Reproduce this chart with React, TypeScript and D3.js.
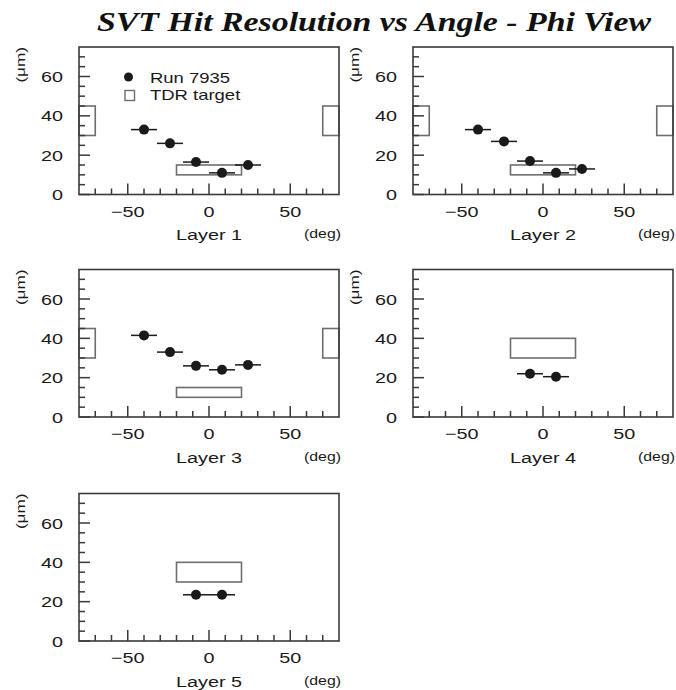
import React from "react";
import * as d3 from "d3";

// Bin centres (deg) and measured hit resolution (μm) per SVT layer
const innerAngles = [-40, -24, -8, 8, 24];
const outerAngles = [-8, 8];
const binHalfWidth = 8;
const layer1 = [33, 26, 16.5, 11, 15];
const layer2 = [33, 27, 17, 11, 13];
const layer3 = [41.5, 33, 26, 24, 26.5];
const layer4 = [22, 20.5];
const layer5 = [23.5, 23.5];

// TDR target regions [x0, x1, y0, y1]
const innerTargets = [
  [-20, 20, 10, 15],
  [-80, -70, 30, 45],
  [70, 80, 30, 45],
];
const outerTargets = [[-20, 20, 30, 40]];

const layerNames = ["Layer 1", "Layer 2", "Layer 3", "Layer 4", "Layer 5"];
const xMajorTicks = [-50, 0, 50];
const yMajorTicks = [0, 20, 40, 60];
const xDomain = [-80, 80];
const yDomain = [0, 75];

const title = "SVT Hit Resolution vs Angle - Phi View";
const legendRun = "Run 7935";
const legendTarget = "TDR target";

type Panel = {
  name: string;
  angles: number[];
  values: number[];
  targets: number[][];
};

const panels: Panel[] = [
  { name: layerNames[0], angles: innerAngles, values: layer1, targets: innerTargets },
  { name: layerNames[1], angles: innerAngles, values: layer2, targets: innerTargets },
  { name: layerNames[2], angles: innerAngles, values: layer3, targets: innerTargets },
  { name: layerNames[3], angles: outerAngles, values: layer4, targets: outerTargets },
  { name: layerNames[4], angles: outerAngles, values: layer5, targets: outerTargets },
];

const W = 676;
const H = 690;
const colLeft = [79, 413];
const rowTop = [47, 269.5, 493.5];
const pw = 260;
const ph = 147.5;
const FONT = "'Liberation Sans', Arial, sans-serif";
const SX = 1.32;
const ink = "#1a1a1a";
const frameCol = "#3a3a3a";
const boxCol = "#6e6e6e";

function WideText(props: {
  x: number;
  y: number;
  size: number;
  anchor?: string;
  children: React.ReactNode;
  rotate?: boolean;
}) {
  const { x, y, size, anchor = "start", children, rotate } = props;
  const tr = rotate
    ? `translate(${x},${y}) rotate(-90) scale(${SX},1)`
    : `translate(${x},${y}) scale(${SX},1)`;
  return (
    <text
      transform={tr}
      fontFamily={FONT}
      fontSize={size}
      textAnchor={anchor}
      fill={ink}
    >
      {children}
    </text>
  );
}

function PanelView({ p, left, top, legend }: { p: Panel; left: number; top: number; legend: boolean }) {
  const x = d3.scaleLinear().domain(xDomain).range([0, pw]);
  const y = d3.scaleLinear().domain(yDomain).range([ph, 0]);
  const xMinor = d3.range(-70, 71, 10).filter((v) => !xMajorTicks.includes(v));
  const yMinor = d3.range(5, 71, 5).filter((v) => !yMajorTicks.includes(v));
  return (
    <g transform={`translate(${left},${top})`}>
      {/* TDR target boxes */}
      {p.targets.map((t, i) => (
        <rect
          key={"t" + i}
          x={x(t[0])}
          y={y(t[3])}
          width={x(t[1]) - x(t[0])}
          height={y(t[2]) - y(t[3])}
          fill="none"
          stroke={boxCol}
          strokeWidth={1.6}
        />
      ))}
      {/* frame */}
      <rect x={0} y={0} width={pw} height={ph} fill="none" stroke={frameCol} strokeWidth={1.6} />
      {/* x ticks */}
      {xMajorTicks.map((v) => (
        <line key={"xM" + v} x1={x(v)} x2={x(v)} y1={ph} y2={ph - 11} stroke={frameCol} strokeWidth={1.5} />
      ))}
      {xMinor.map((v) => (
        <line key={"xm" + v} x1={x(v)} x2={x(v)} y1={ph} y2={ph - 6} stroke={frameCol} strokeWidth={1.5} />
      ))}
      {/* y ticks */}
      {yMajorTicks.map((v) => (
        <line key={"yM" + v} x1={0} x2={11} y1={y(v)} y2={y(v)} stroke={frameCol} strokeWidth={1.5} />
      ))}
      {yMinor.map((v) => (
        <line key={"ym" + v} x1={0} x2={6} y1={y(v)} y2={y(v)} stroke={frameCol} strokeWidth={1.5} />
      ))}
      {/* tick labels */}
      {xMajorTicks.map((v) => (
        <WideText key={"xl" + v} x={x(v)} y={ph + 22} size={15} anchor="middle">
          {v < 0 ? "\u2212" + Math.abs(v) : String(v)}
        </WideText>
      ))}
      {yMajorTicks.map((v) => (
        <WideText key={"yl" + v} x={-16} y={y(v) + 5.5} size={15} anchor="end">
          {String(v)}
        </WideText>
      ))}
      {/* axis titles */}
      <WideText x={x(0)} y={ph + 45.5} size={15} anchor="middle">
        {p.name}
      </WideText>
      <WideText x={pw + 2} y={ph + 43.5} size={12} anchor="end">
        (deg)
      </WideText>
      <WideText x={-54} y={0} size={13} anchor="end" rotate>
        (μm)
      </WideText>
      {/* measurements */}
      {p.angles.map((a, i) => (
        <g key={"p" + i}>
          <line
            x1={x(a - binHalfWidth)}
            x2={x(a + binHalfWidth)}
            y1={y(p.values[i])}
            y2={y(p.values[i])}
            stroke={ink}
            strokeWidth={1.5}
          />
          <circle cx={x(a)} cy={y(p.values[i])} r={5} fill={ink} />
        </g>
      ))}
      {legend && (
        <g>
          <circle cx={49.5} cy={30} r={4.5} fill={ink} />
          <WideText x={71} y={36} size={14}>
            {legendRun}
          </WideText>
          <rect x={46} y={43.5} width={9.5} height={10} fill="none" stroke={boxCol} strokeWidth={1.4} />
          <WideText x={71} y={53} size={14}>
            {legendTarget}
          </WideText>
        </g>
      )}
    </g>
  );
}

export default function App() {
  return (
    <svg
      width={W}
      height={H}
      viewBox={`0 0 ${W} ${H}`}
      style={{ position: "absolute", left: 0, top: 0, background: "#fff" }}
    >
      <rect width={W} height={H} fill="#fff" />
      <text
        x={374}
        y={31}
        textAnchor="middle"
        fontFamily="'Liberation Serif', 'Times New Roman', serif"
        fontWeight="bold"
        fontStyle="italic"
        fontSize={28}
        textLength={554}
        lengthAdjust="spacingAndGlyphs"
        fill="#111"
      >
        {title}
      </text>
      {panels.map((p, i) => (
        <PanelView
          key={p.name}
          p={p}
          left={colLeft[i % 2]}
          top={rowTop[Math.floor(i / 2)]}
          legend={i === 0}
        />
      ))}
    </svg>
  );
}
